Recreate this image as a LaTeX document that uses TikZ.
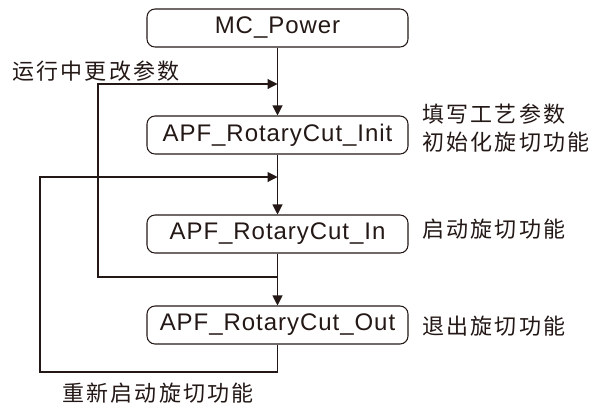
\documentclass[tikz,border=0pt]{standalone}
\usepackage{fontspec}
\setmainfont[LetterSpace=4]{Liberation Sans}
\newfontfamily\cjk[LetterSpace=10]{Noto Sans CJK SC}
\usetikzlibrary{arrows.meta}
\definecolor{ink}{HTML}{231815}
\begin{document}
\begin{tikzpicture}[x=0.75pt,y=-0.75pt,
  box/.style={draw=ink, line width=0.8pt, rounded corners=6pt, minimum width=195.75pt, minimum height=28.5pt, inner sep=0pt, font=\fontsize{18pt}{20pt}\selectfont, text=ink},
  lbl/.style={anchor=west, inner sep=0pt, font=\cjk\fontsize{16.5pt}{20pt}\selectfont, text=ink},
  link/.style={draw=ink, line width=0.8pt},
  arr/.style={link, -{Triangle[length=7.5pt,width=7.5pt]}}]
\useasboundingbox (0,0) rectangle (596,408);
\node[box] (mc) at (277.5,28) {MC\_Power};
\node[box] (init) at (277.5,135) {APF\_RotaryCut\_Init};
\node[box] (in) at (277.5,234) {APF\_RotaryCut\_In};
\node[box] (out) at (277.5,325) {APF\_RotaryCut\_Out};
\coordinate (j1) at (277.5,84);
\coordinate (j2) at (277.5,177);
\coordinate (l1) at (98,277);
\coordinate (l2) at (40,372);
\draw[arr] (mc) -- (init);
\draw[arr] (init) -- (in);
\draw[arr] (in) -- (out);
\draw[arr] (in.south) |- (l1) |- (j1);
\draw[arr] (out.south) |- (l2) |- (j2);
\node[lbl] (t1) at (12,71.5) {运行中更改参数};
\node[lbl] (t2) at (62,393) {重新启动旋切功能};
\node[lbl] (t3) at (422,114) {填写工艺参数};
\node[lbl] (t4) at (422,142) {初始化旋切功能};
\node[lbl] (t5) at (422,229) {启动旋切功能};
\node[lbl] (t6) at (422,326) {退出旋切功能};
\end{tikzpicture}
\end{document}
